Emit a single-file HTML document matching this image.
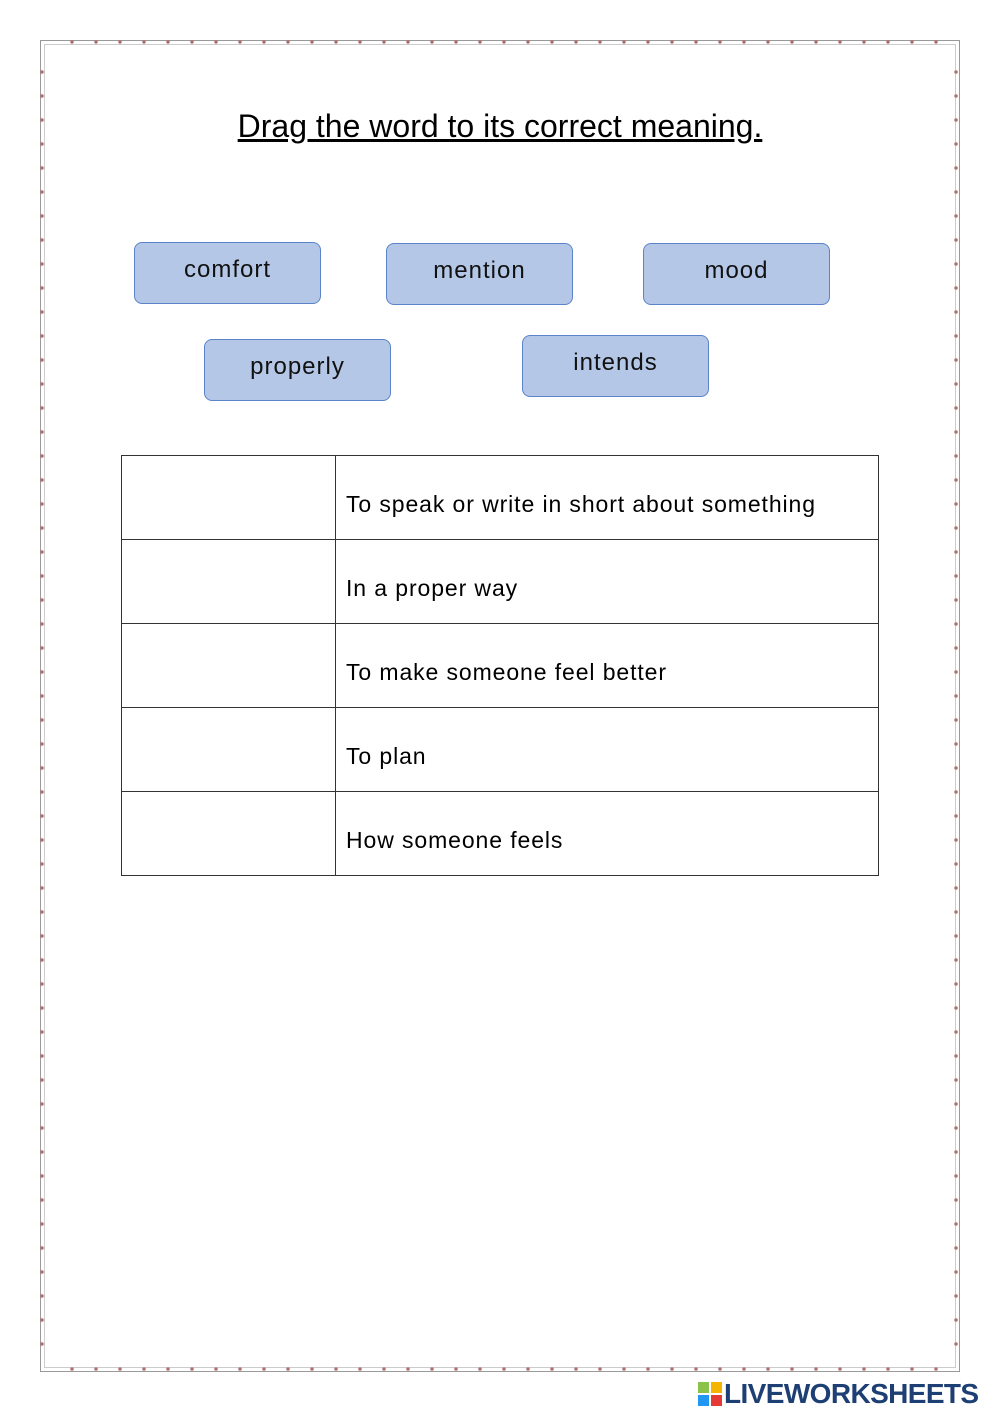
<!DOCTYPE html>
<html><head><style>
body{margin:0;width:1000px;height:1413px;background:#fff;position:relative;font-family:"Comic Sans MS","Liberation Sans",sans-serif;overflow:hidden}
.frame{position:absolute;left:40px;top:40px;width:918px;height:1330px;border:1px solid #999;}
.frame2{position:absolute;left:44px;top:44px;width:910px;height:1322px;border:1px solid #ccc;}
.dh{position:absolute;height:6px;background:radial-gradient(circle,#b07070 1.5px,transparent 2px) 0 0/24px 6px repeat-x}
.dv{position:absolute;width:6px;background:radial-gradient(circle,#b07070 1.5px,transparent 2px) 0 0/6px 24px repeat-y}
.t{position:absolute;left:0;width:1000px;top:108px;text-align:center;font-size:32px;text-decoration:underline;color:#000;white-space:nowrap}
.b{position:absolute;width:187px;height:62px;background:#b4c7e7;border:1.5px solid #5b84c8;border-radius:8px;box-sizing:border-box;text-align:center;font-size:24px;letter-spacing:1px;line-height:54px;color:#111}
table{position:absolute;left:121px;top:455px;border-collapse:collapse}
td{border:1px solid #333;height:84px;font-size:23px;letter-spacing:0.9px;padding:14px 10px 0;box-sizing:border-box;white-space:nowrap}
.logo{position:absolute;left:698px;top:1379px;display:flex;align-items:center;white-space:nowrap;font:bold 28px "Liberation Sans",sans-serif;letter-spacing:-0.6px;color:#1d3f74;line-height:30px}
.g{display:grid;grid-template-columns:11px 11px;gap:2px;margin-right:2px}
.sq{width:11px;height:11px}
</style></head><body>
<div class="frame"></div><div class="frame2"></div>
<div class="dh" style="left:60px;top:39px;width:896px"></div>
<div class="dh" style="left:60px;top:1366px;width:896px"></div>
<div class="dv" style="left:39px;top:60px;height:1300px"></div>
<div class="dv" style="left:953px;top:60px;height:1300px"></div>
<div class="t">Drag the word to its correct meaning.</div>
<div class="b" style="left:134px;top:242px">comfort</div>
<div class="b" style="left:386px;top:243px">mention</div>
<div class="b" style="left:643px;top:243px">mood</div>
<div class="b" style="left:204px;top:339px">properly</div>
<div class="b" style="left:522px;top:335px">intends</div>
<table>
<tr><td style="width:214px"></td><td style="width:543px">To speak or write in short about something</td></tr>
<tr><td></td><td>In a proper way</td></tr>
<tr><td></td><td>To make someone feel better</td></tr>
<tr><td></td><td>To plan</td></tr>
<tr><td></td><td>How someone feels</td></tr>
</table>
<div class="logo"><div class="g"><div class="sq" style="background:#8bc34a"></div><div class="sq" style="background:#f4b400"></div><div class="sq" style="background:#2196f3"></div><div class="sq" style="background:#e53935"></div></div>LIVEWORKSHEETS</div>
</body></html>
